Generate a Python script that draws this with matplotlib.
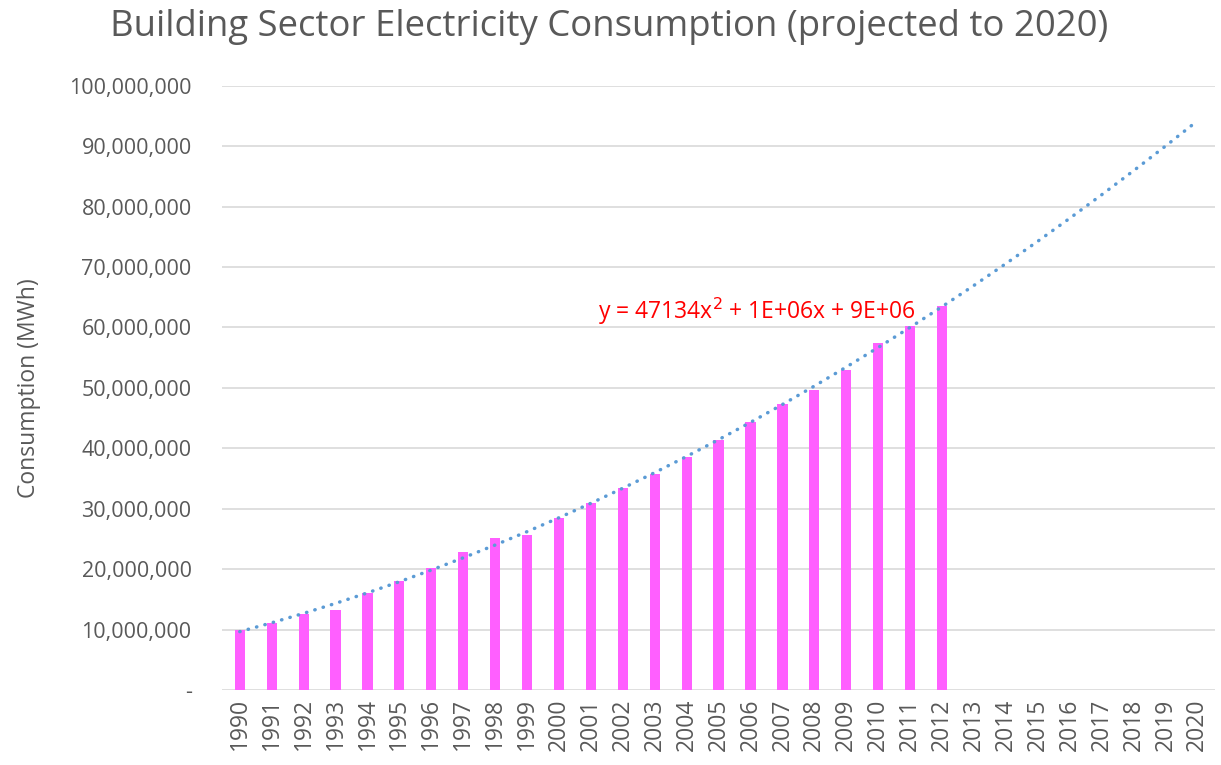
import numpy as np
import matplotlib
matplotlib.use("Agg")
import matplotlib.pyplot as plt
from matplotlib.ticker import FuncFormatter, MultipleLocator

plt.rcParams['font.family'] = ['Open Sans', 'DejaVu Sans']

years = [str(y) for y in range(1990, 2021)]
consumption = [9.9e6, 11.1e6, 12.6e6, 13.2e6, 16.0e6, 18.0e6, 20.2e6, 22.8e6,
               25.1e6, 25.6e6, 28.4e6, 30.9e6, 33.4e6, 35.7e6, 38.5e6, 41.3e6,
               44.3e6, 47.3e6, 49.6e6, 52.9e6, 57.5e6, 60.2e6, 63.5e6]
equation = "y = 47134x$^2$ + 1E+06x + 9E+06"

grey = '#595959'

fig = plt.figure(figsize=(12.21, 7.65), dpi=100)
ax = fig.add_axes([0.182, 0.098, 0.813, 0.79])

x_all = np.arange(len(years))
x_data = np.arange(len(consumption))
ax.bar(x_data, consumption, width=0.32, color='#ff5fff', zorder=2)

# polynomial trendline (order 2), extended to 2020
coef = np.polyfit(x_data + 1, consumption, 2)
trend = np.polyval(coef, x_all + 1)
ax.plot(x_all, trend, linestyle=(0, (0.1, 2.4)), dash_capstyle='round',
        color='#5b9bd5', linewidth=2.5, zorder=3)

ax.text(16.2, 62.6e6, equation, color='#ff0000', fontsize=16.5,
        ha='center', va='center', zorder=4)

ax.set_xlim(-0.55, len(years) - 0.45)
ax.set_ylim(0, 100e6)
ax.yaxis.set_major_locator(MultipleLocator(10e6))
ax.yaxis.set_major_formatter(FuncFormatter(lambda v, p: '-' if v == 0 else f'{v:,.0f}'))
ax.set_xticks(x_all)
ax.set_xticklabels(years, rotation=90, fontsize=16.5, color=grey)
ax.tick_params(axis='y', labelsize=15.5, colors=grey, length=0, pad=22)
ax.tick_params(axis='x', length=0, pad=6)
ax.grid(axis='y', color='#d9d9d9', linewidth=1.2, zorder=0)
for s in ax.spines.values():
    s.set_visible(False)

ax.set_ylabel('Consumption (MWh)', fontsize=16.5, color=grey, labelpad=20)
fig.suptitle('Building Sector Electricity Consumption (projected to 2020)',
             fontsize=26.3, color=grey, x=0.499, y=0.988)

fig.savefig('out.png', dpi=100)
